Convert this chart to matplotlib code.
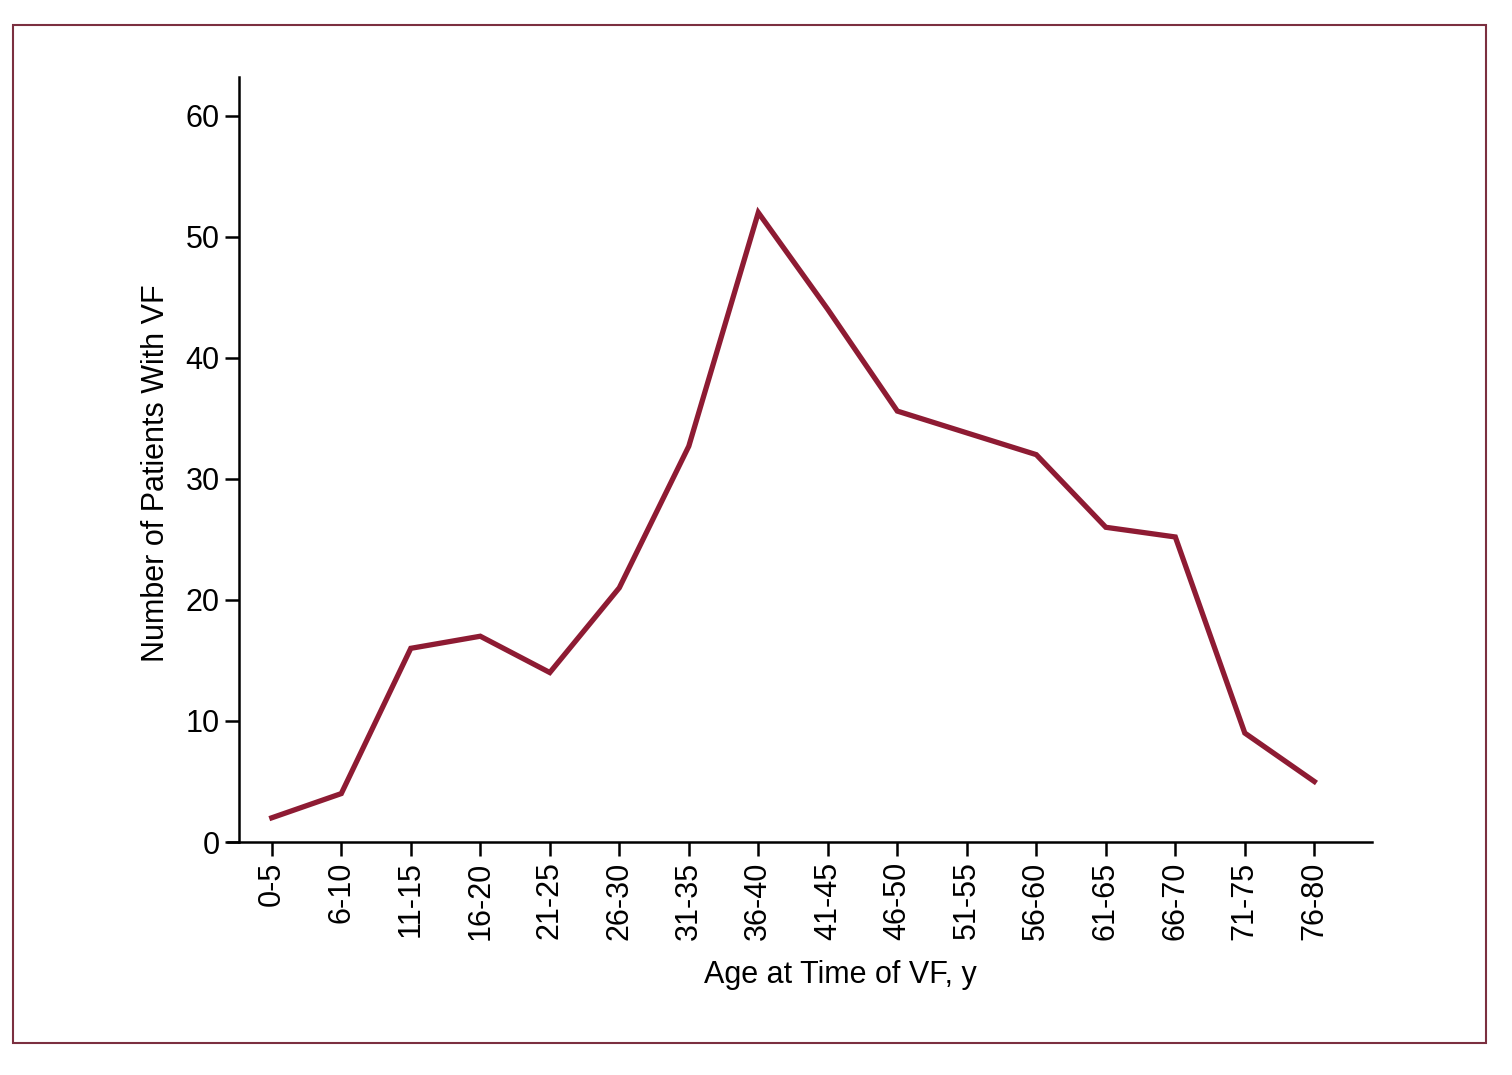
import matplotlib
matplotlib.use("Agg")
import matplotlib.pyplot as plt
from matplotlib.patches import Rectangle

plt.rcParams['font.family'] = ['Liberation Sans Narrow', 'Liberation Sans', 'DejaVu Sans']

# age groups and number of patients with VF
age_groups = ["0-5", "6-10", "11-15", "16-20", "21-25", "26-30", "31-35", "36-40",
              "41-45", "46-50", "51-55", "56-60", "61-65", "66-70", "71-75", "76-80"]
patients = [2, 4, 16, 17, 14, 21, 32.7, 52, 44, 35.6, 33.8, 32, 26, 25.2, 9, 5]

line_color = '#8e1b33'
frame_color = '#7b2f40'

fig = plt.figure(figsize=(15.12, 10.75), dpi=100)
fig.patches.append(Rectangle((13 / 1512, 1 - 1043 / 1075), 1473 / 1512, 1018 / 1075,
                             transform=fig.transFigure, fill=False,
                             edgecolor=frame_color, linewidth=1.5))

ax = fig.add_axes([228 / 1512, 1 - 842 / 1075, 1144 / 1512, 765 / 1075])
x = list(range(len(age_groups)))
ax.plot(x, patients, color=line_color, linewidth=3.8, solid_joinstyle='miter')

ax.set_xlim(-0.63, 15.83)
ax.set_ylim(0, 63.2)
ax.spines['right'].set_visible(False)
ax.spines['top'].set_visible(False)
ax.spines['left'].set_position(('data', -0.47))
for s in ('left', 'bottom'):
    ax.spines[s].set_linewidth(1.8)

ax.set_xticks(x)
ax.set_xticklabels(age_groups, rotation=90)
ax.set_yticks(range(0, 61, 10))
ax.tick_params(axis='both', direction='out', length=10, width=1.8, labelsize=22, pad=4)

ax.set_xlabel("Age at Time of VF, y", fontsize=22)
ax.set_ylabel("Number of Patients With VF", fontsize=22)
ax.xaxis.set_label_coords(0.535, -0.154)
ax.yaxis.set_label_coords(-0.05, 0.482)

fig.savefig("out.png", dpi=100)
